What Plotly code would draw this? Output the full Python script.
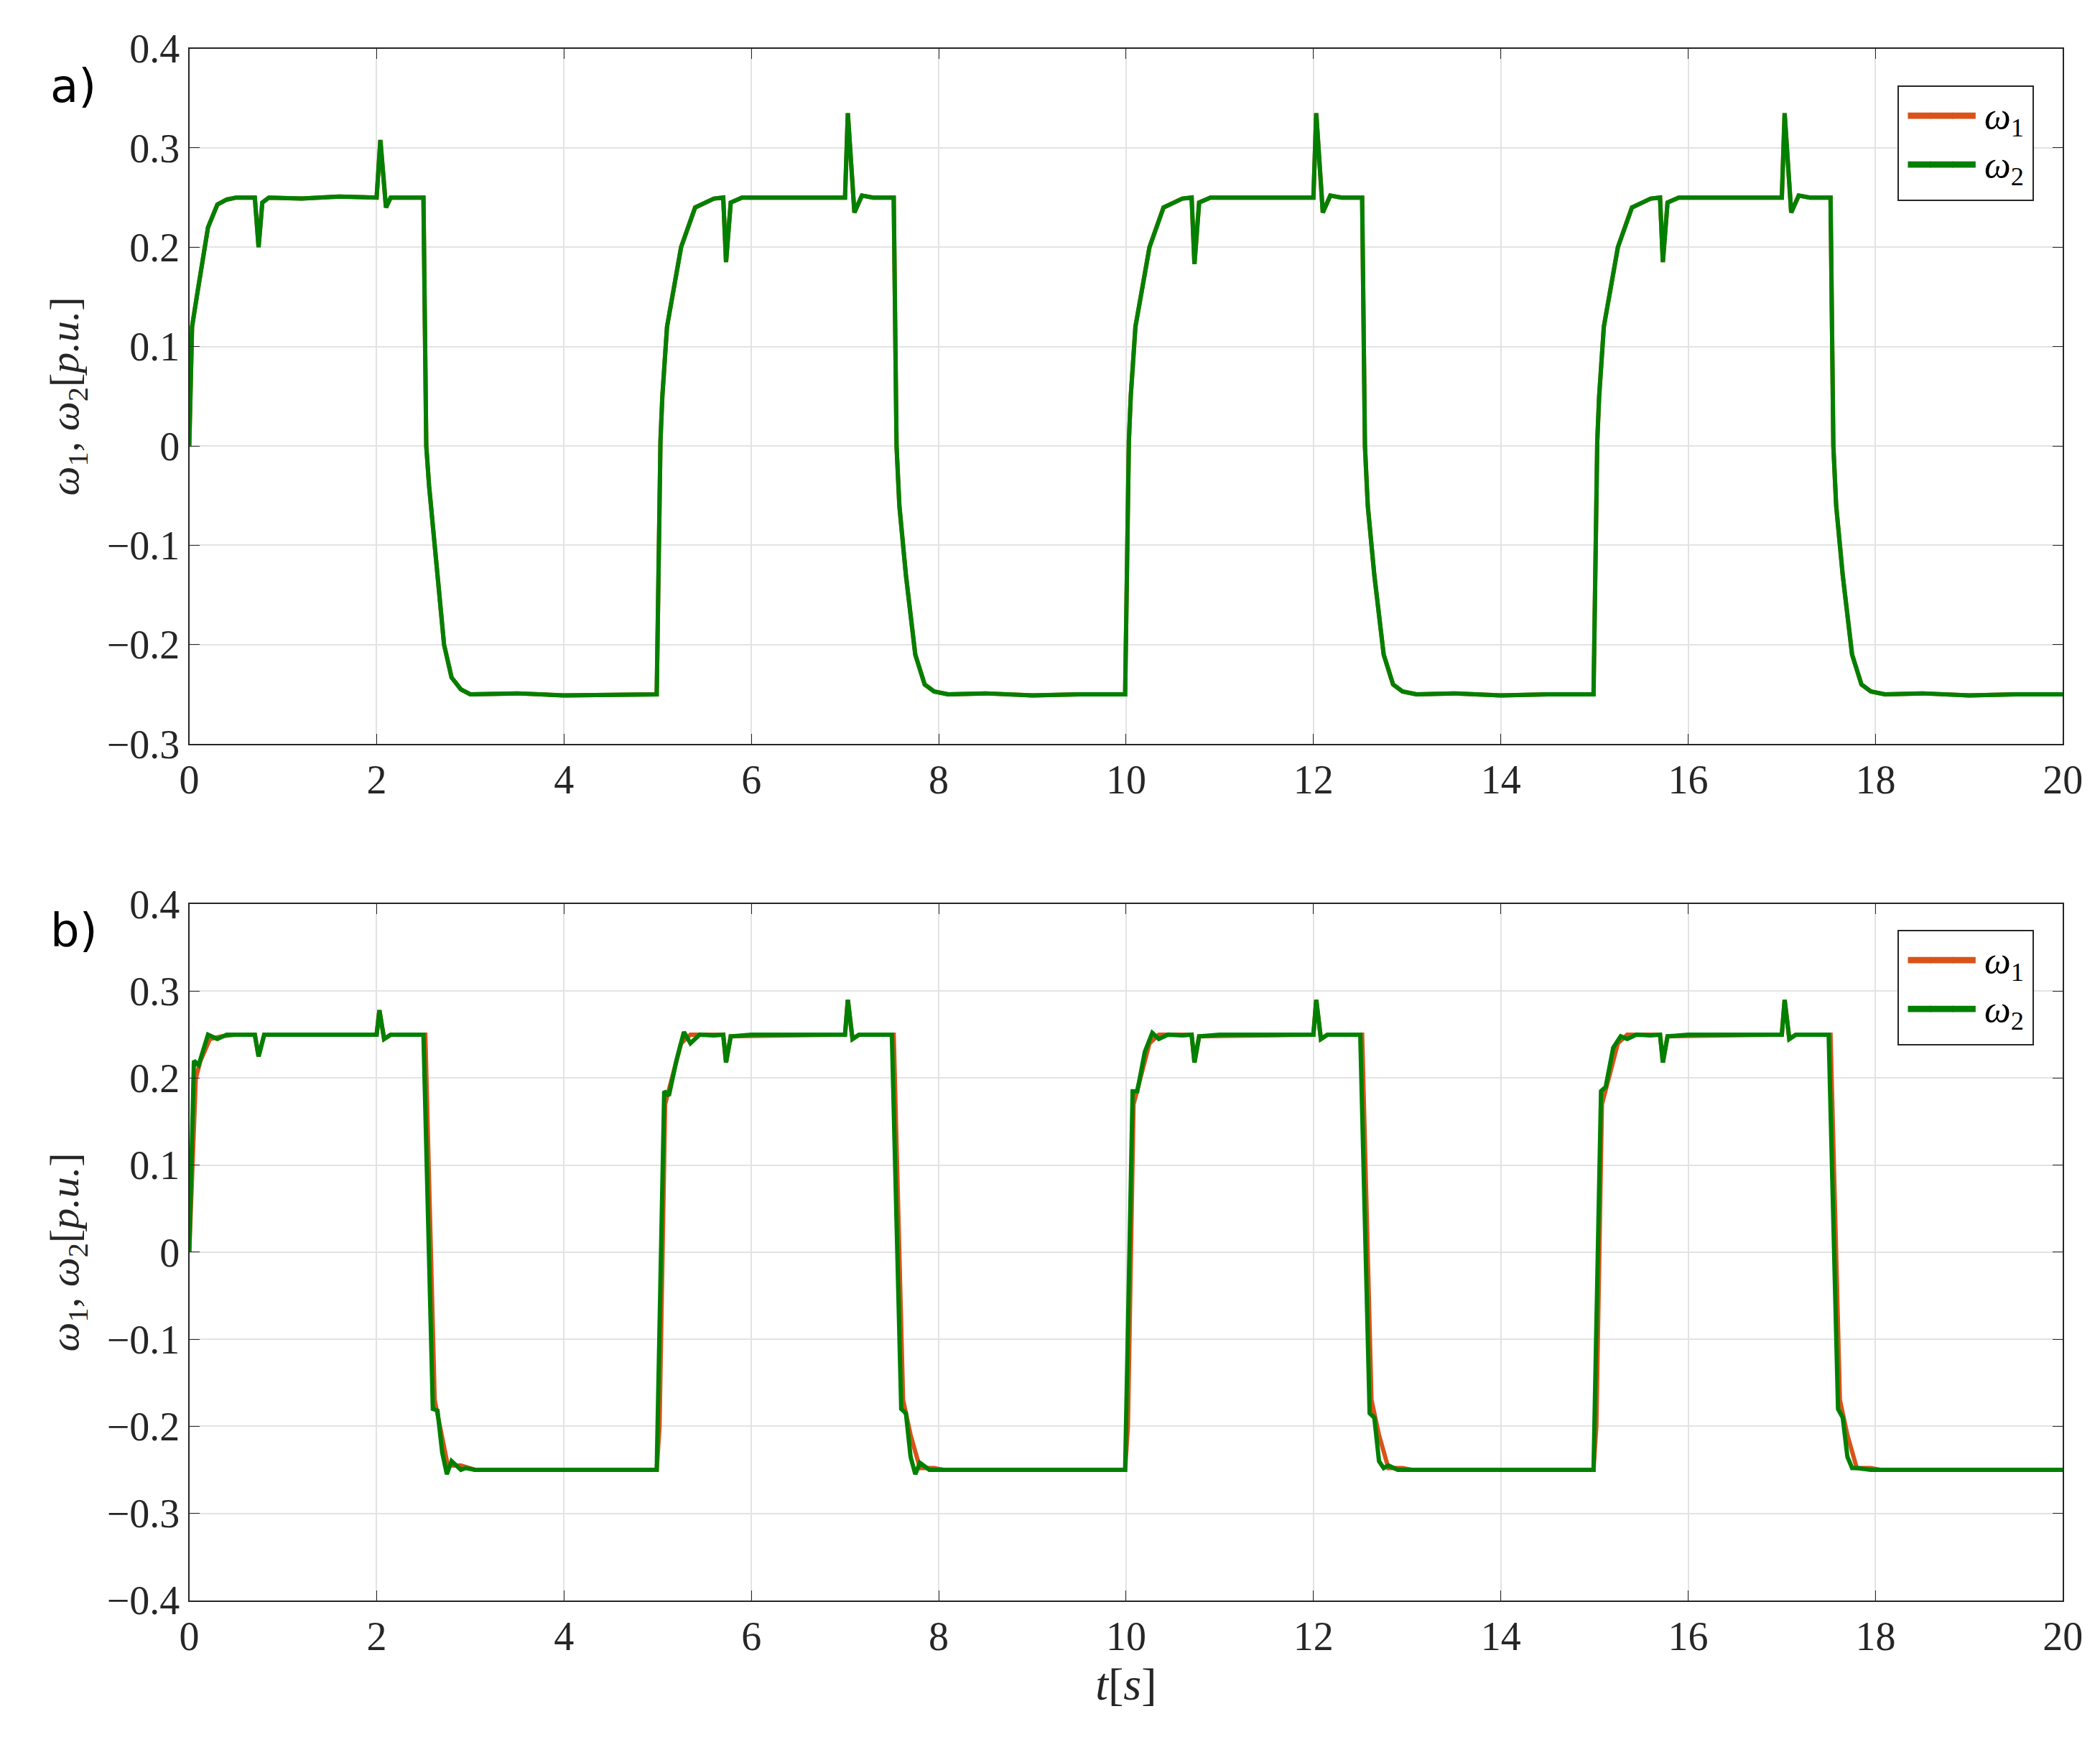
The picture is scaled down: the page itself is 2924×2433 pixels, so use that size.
import plotly.graph_objects as go

# panel a) - omega speeds
T_A = [0, 0.03, 0.08, 0.2, 0.3, 0.4, 0.5, 0.7, 0.74, 0.78, 0.85, 1.2, 1.6, 2.0, 2.04, 2.1, 2.15, 2.25, 2.5, 2.53, 2.56, 2.62, 2.72, 2.8, 2.9, 3.0, 3.5, 4.0, 4.5, 4.99,
       5.03, 5.05, 5.1, 5.25, 5.4, 5.6, 5.7, 5.73, 5.78, 5.9, 6.5, 7.0, 7.03, 7.1, 7.18, 7.3, 7.52, 7.55, 7.58, 7.65, 7.75, 7.85, 7.95, 8.1, 8.5, 9.0, 9.5, 9.99,
       10.03, 10.05, 10.1, 10.25, 10.4, 10.6, 10.7, 10.73, 10.78, 10.9, 11.5, 12.0, 12.03, 12.1, 12.18, 12.3, 12.52, 12.55, 12.58, 12.65, 12.75, 12.85, 12.95, 13.1, 13.5, 14.0, 14.5, 14.99,
       15.03, 15.05, 15.1, 15.25, 15.4, 15.6, 15.7, 15.73, 15.78, 15.9, 16.5, 17.0, 17.03, 17.1, 17.18, 17.3, 17.52, 17.55, 17.58, 17.65, 17.75, 17.85, 17.95, 18.1, 18.5, 19.0, 19.5, 20.0]
W_A = [0, 0.12, 0.15, 0.22, 0.243, 0.248, 0.25, 0.25, 0.2, 0.245, 0.25, 0.249, 0.251, 0.25, 0.308, 0.24, 0.25, 0.25, 0.25, 0.0, -0.04, -0.1, -0.2, -0.233, -0.245, -0.25, -0.249, -0.251, -0.25, -0.25,
       0.005, 0.05, 0.12, 0.2, 0.24, 0.249, 0.25, 0.185, 0.245, 0.25, 0.25, 0.25, 0.335, 0.235, 0.252, 0.25, 0.25, 0.0, -0.06, -0.13, -0.21, -0.24, -0.247, -0.25, -0.249, -0.251, -0.25, -0.25,
       0.005, 0.05, 0.12, 0.2, 0.24, 0.249, 0.25, 0.183, 0.245, 0.25, 0.25, 0.25, 0.335, 0.235, 0.252, 0.25, 0.25, 0.0, -0.06, -0.13, -0.21, -0.24, -0.247, -0.25, -0.249, -0.251, -0.25, -0.25,
       0.005, 0.05, 0.12, 0.2, 0.24, 0.249, 0.25, 0.185, 0.245, 0.25, 0.25, 0.25, 0.335, 0.235, 0.252, 0.25, 0.25, 0.0, -0.06, -0.13, -0.21, -0.24, -0.247, -0.25, -0.249, -0.251, -0.25, -0.25]

# panel b)
T_B2 = [0, 0.05, 0.1, 0.2, 0.3, 0.4, 0.5, 0.7, 0.74, 0.8, 1.2, 1.6, 2.0, 2.03, 2.08, 2.15, 2.5, 2.6, 2.65, 2.7, 2.75, 2.8, 2.9, 2.95, 3.05, 3.5, 4.0, 4.5, 4.99,
        5.07, 5.12, 5.2, 5.28, 5.35, 5.45, 5.6, 5.7, 5.73, 5.78, 6.0, 6.5, 7.0, 7.03, 7.08, 7.15, 7.5, 7.6, 7.65, 7.7, 7.75, 7.8, 7.9, 7.95, 8.05, 8.5, 9.0, 9.5, 9.99,
        10.07, 10.12, 10.2, 10.28, 10.35, 10.45, 10.6, 10.7, 10.73, 10.78, 11.0, 11.5, 12.0, 12.03, 12.08, 12.15, 12.5, 12.6, 12.65, 12.7, 12.75, 12.8, 12.9, 12.95, 13.05, 13.5, 14.0, 14.5, 14.99,
        15.07, 15.12, 15.2, 15.28, 15.35, 15.45, 15.6, 15.7, 15.73, 15.78, 16.0, 16.5, 17.0, 17.03, 17.08, 17.15, 17.5, 17.6, 17.65, 17.7, 17.75, 17.8, 17.9, 17.95, 18.05, 18.5, 19.0, 19.5, 20.0]
W_B2 = [0, 0.22, 0.215, 0.25, 0.245, 0.25, 0.25, 0.25, 0.225, 0.25, 0.25, 0.25, 0.25, 0.278, 0.245, 0.25, 0.25, -0.18, -0.182, -0.23, -0.255, -0.24, -0.25, -0.248, -0.25, -0.25, -0.25, -0.25, -0.25,
        0.185, 0.18, 0.22, 0.253, 0.24, 0.25, 0.249, 0.25, 0.218, 0.248, 0.25, 0.25, 0.25, 0.29, 0.245, 0.25, 0.25, -0.18, -0.185, -0.235, -0.255, -0.242, -0.25, -0.25, -0.25, -0.25, -0.25, -0.25, -0.25,
        0.185, 0.185, 0.23, 0.252, 0.245, 0.25, 0.249, 0.25, 0.218, 0.248, 0.25, 0.25, 0.25, 0.29, 0.245, 0.25, 0.25, -0.185, -0.19, -0.24, -0.248, -0.245, -0.25, -0.25, -0.25, -0.25, -0.25, -0.25, -0.25,
        0.185, 0.19, 0.235, 0.248, 0.245, 0.25, 0.249, 0.25, 0.218, 0.248, 0.25, 0.25, 0.25, 0.29, 0.245, 0.25, 0.25, -0.18, -0.19, -0.235, -0.248, -0.248, -0.25, -0.25, -0.25, -0.25, -0.25, -0.25, -0.25]
# omega1 in b) lags slightly on the edges
T_B1 = [0, 0.07, 0.12, 0.22, 0.35, 0.5, 0.7, 0.74, 0.8, 2.0, 2.03, 2.08, 2.15, 2.52, 2.62, 2.68, 2.76, 2.9, 3.05, 4.99,
        5.02, 5.08, 5.15, 5.25, 5.35, 5.5, 5.7, 5.73, 5.78, 7.0, 7.03, 7.08, 7.15, 7.52, 7.62, 7.7, 7.8, 7.95, 8.05, 9.99,
        10.02, 10.08, 10.15, 10.25, 10.35, 10.5, 10.7, 10.73, 10.78, 12.0, 12.03, 12.08, 12.15, 12.52, 12.62, 12.7, 12.8, 12.95, 13.05, 14.99,
        15.02, 15.08, 15.15, 15.25, 15.35, 15.5, 15.7, 15.73, 15.78, 17.0, 17.03, 17.08, 17.15, 17.52, 17.62, 17.7, 17.8, 17.95, 18.05, 20.0]
W_B1 = [0, 0.2, 0.22, 0.245, 0.248, 0.25, 0.25, 0.225, 0.25, 0.25, 0.278, 0.245, 0.25, 0.25, -0.17, -0.2, -0.245, -0.245, -0.25, -0.25,
        -0.2, 0.17, 0.2, 0.24, 0.25, 0.25, 0.25, 0.218, 0.248, 0.25, 0.29, 0.245, 0.25, 0.25, -0.17, -0.21, -0.248, -0.248, -0.25, -0.25,
        -0.2, 0.17, 0.2, 0.24, 0.25, 0.25, 0.25, 0.218, 0.248, 0.25, 0.29, 0.245, 0.25, 0.25, -0.17, -0.21, -0.248, -0.248, -0.25, -0.25,
        -0.2, 0.17, 0.2, 0.24, 0.25, 0.25, 0.25, 0.218, 0.248, 0.25, 0.29, 0.245, 0.25, 0.25, -0.17, -0.21, -0.248, -0.248, -0.25, -0.25]

ROUGE = "#D95319"
VERT = "#008000"
SERIF = "Liberation Serif"
LARGEUR = 6

fig = go.Figure()
# panneau a)
fig.add_trace(go.Scatter(x=T_A, y=W_A, mode="lines", line=dict(color=ROUGE, width=LARGEUR), xaxis="x", yaxis="y"))
fig.add_trace(go.Scatter(x=T_A, y=W_A, mode="lines", line=dict(color=VERT, width=LARGEUR), xaxis="x", yaxis="y"))
# panneau b)
fig.add_trace(go.Scatter(x=T_B1, y=W_B1, mode="lines", line=dict(color=ROUGE, width=LARGEUR), xaxis="x2", yaxis="y2"))
fig.add_trace(go.Scatter(x=T_B2, y=W_B2, mode="lines", line=dict(color=VERT, width=LARGEUR), xaxis="x2", yaxis="y2"))

axe = dict(showline=True, linecolor="#262626", linewidth=2, mirror="ticks", ticks="inside", ticklen=14,
           tickcolor="#262626", showgrid=True, gridcolor="#E3E3E3", gridwidth=2, zeroline=False,
           tickfont=dict(family=SERIF, size=56, color="#262626"))
ylab = "<i>ω</i><sub>1</sub>, <i>ω</i><sub>2</sub>[<i>p.u.</i>]"
titre = dict(family=SERIF, size=58, color="#262626")

# legendes dessinees en annotations (une par panneau)
leg = ("<span style='color:%s'>━━━</span> <i>ω</i><sub>1</sub><br><span style='color:%s'>━━━</span> <i>ω</i><sub>2</sub>"
       % (ROUGE, VERT))

fig.update_layout(
    width=2924, height=2433, margin=dict(l=0, r=0, t=0, b=0), showlegend=False,
    plot_bgcolor="white", paper_bgcolor="white",
    xaxis=dict(axe, domain=[0.0838, 0.989], range=[0, 20], dtick=2, anchor="y"),
    yaxis=dict(axe, domain=[0.579, 0.9875], range=[-0.3, 0.4], dtick=0.1, anchor="x",
               title=dict(text=ylab, font=titre, standoff=20)),
    xaxis2=dict(axe, domain=[0.0838, 0.989], range=[0, 20], dtick=2, anchor="y2",
                title=dict(text="<i>t</i>[<i>s</i>]", font=dict(family=SERIF, size=64, color="#262626"), standoff=10)),
    yaxis2=dict(axe, domain=[0.076, 0.485], range=[-0.4, 0.4], dtick=0.1, anchor="x2",
                title=dict(text=ylab, font=titre, standoff=20)),
    annotations=[
        dict(text="a)", x=0.016, y=0.982, xref="paper", yref="paper", showarrow=False, xanchor="left", yanchor="top",
             font=dict(family="DejaVu Sans", size=64, color="black")),
        dict(text="b)", x=0.016, y=0.486, xref="paper", yref="paper", showarrow=False, xanchor="left", yanchor="top",
             font=dict(family="DejaVu Sans", size=64, color="black")),
        dict(text=leg, x=0.975, y=0.966, xref="paper", yref="paper", showarrow=False, xanchor="right", yanchor="top",
             align="left", bgcolor="white", bordercolor="#262626", borderwidth=2, borderpad=12,
             font=dict(family=SERIF, size=52, color="black")),
        dict(text=leg, x=0.975, y=0.470, xref="paper", yref="paper", showarrow=False, xanchor="right", yanchor="top",
             align="left", bgcolor="white", bordercolor="#262626", borderwidth=2, borderpad=12,
             font=dict(family=SERIF, size=52, color="black")),
    ],
)

fig.write_html("out.html")
